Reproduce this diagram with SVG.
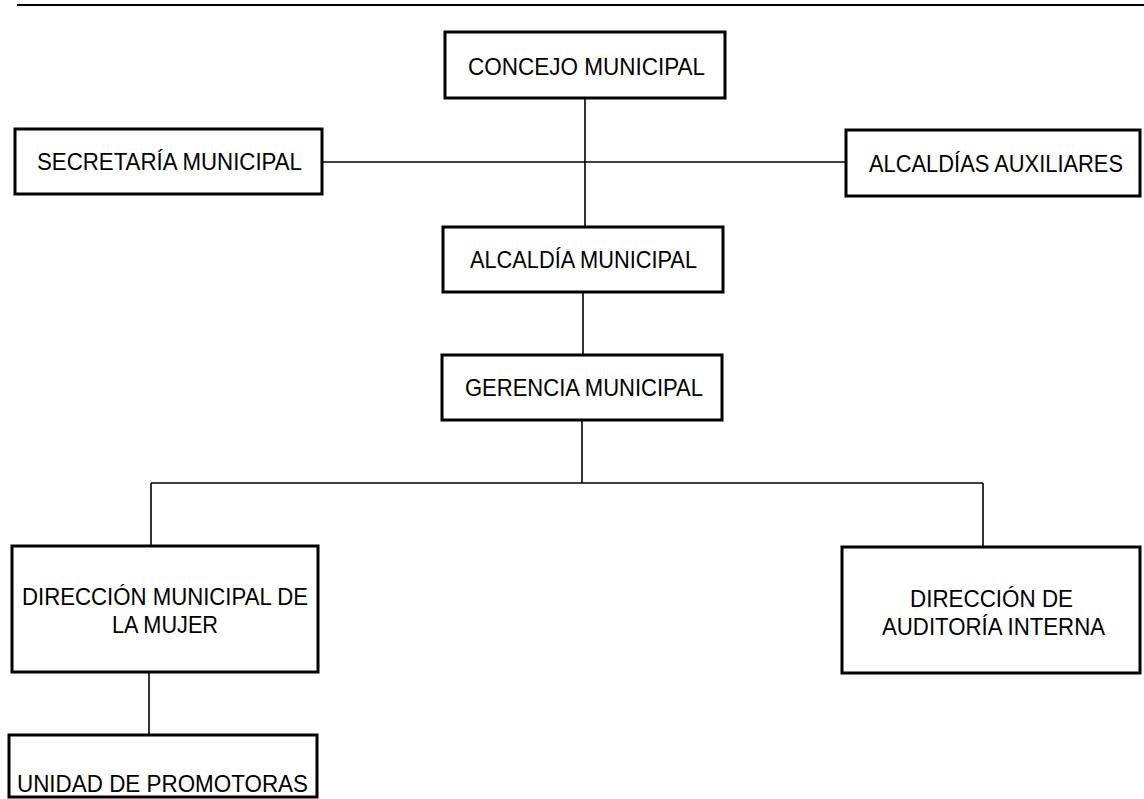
<svg xmlns="http://www.w3.org/2000/svg" width="1144" height="799" viewBox="0 0 1144 799">
  <style>
    .box { fill: #ffffff; stroke: #000000; stroke-width: 3; }
    .link { fill: none; stroke: #000000; stroke-width: 1.6; }
    .rule { fill: none; stroke: #000000; stroke-width: 2; }
    .label { font-family: "Liberation Sans", Arial, sans-serif; font-size: 24px; fill: #000000; text-anchor: middle; }
  </style>
  <rect width="1144" height="799" fill="#ffffff"/>

  <!-- page header rule -->
  <line class="rule" x1="17" y1="5" x2="1144" y2="5"/>

  <g id="connectors">
    <line class="link" x1="585" y1="98" x2="585" y2="227"/>
    <line class="link" x1="322" y1="162" x2="846" y2="162"/>
    <line class="link" x1="583" y1="292" x2="583" y2="355"/>
    <line class="link" x1="582" y1="420" x2="582" y2="483"/>
    <line class="link" x1="151" y1="483" x2="983" y2="483"/>
    <line class="link" x1="151" y1="483" x2="151" y2="546"/>
    <line class="link" x1="983" y1="483" x2="983" y2="547"/>
    <line class="link" x1="149" y1="672" x2="149" y2="735"/>
  </g>

  <g id="concejo">
    <rect class="box" x="445" y="32" width="280" height="66"/>
    <text class="label" x="586.5" y="75" textLength="237" lengthAdjust="spacingAndGlyphs">CONCEJO MUNICIPAL</text>
  </g>

  <g id="secretaria">
    <rect class="box" x="15" y="129" width="307" height="65"/>
    <text class="label" x="169.5" y="170" textLength="265" lengthAdjust="spacingAndGlyphs">SECRETARÍA MUNICIPAL</text>
  </g>

  <g id="alcaldias-auxiliares">
    <rect class="box" x="846" y="130" width="294" height="66"/>
    <text class="label" x="996" y="172" textLength="254" lengthAdjust="spacingAndGlyphs">ALCALDÍAS AUXILIARES</text>
  </g>

  <g id="alcaldia">
    <rect class="box" x="443" y="227" width="280" height="65"/>
    <text class="label" x="583.5" y="268" textLength="227" lengthAdjust="spacingAndGlyphs">ALCALDÍA MUNICIPAL</text>
  </g>

  <g id="gerencia">
    <rect class="box" x="442" y="355" width="280" height="65"/>
    <text class="label" x="584" y="396" textLength="238" lengthAdjust="spacingAndGlyphs">GERENCIA MUNICIPAL</text>
  </g>

  <g id="direccion-mujer">
    <rect class="box" x="12" y="546" width="306" height="126"/>
    <text class="label" x="165" y="605" textLength="286" lengthAdjust="spacingAndGlyphs">DIRECCIÓN MUNICIPAL DE</text>
    <text class="label" x="165" y="633" textLength="106" lengthAdjust="spacingAndGlyphs">LA MUJER</text>
  </g>

  <g id="auditoria">
    <rect class="box" x="842" y="547" width="298" height="126"/>
    <text class="label" x="991.5" y="607" textLength="163" lengthAdjust="spacingAndGlyphs">DIRECCIÓN DE</text>
    <text class="label" x="993.5" y="635" textLength="223" lengthAdjust="spacingAndGlyphs">AUDITORÍA INTERNA</text>
  </g>

  <g id="promotoras">
    <rect class="box" x="9" y="735" width="308" height="62"/>
    <text class="label" x="162.5" y="792" textLength="291" lengthAdjust="spacingAndGlyphs">UNIDAD DE PROMOTORAS</text>
  </g>
</svg>
